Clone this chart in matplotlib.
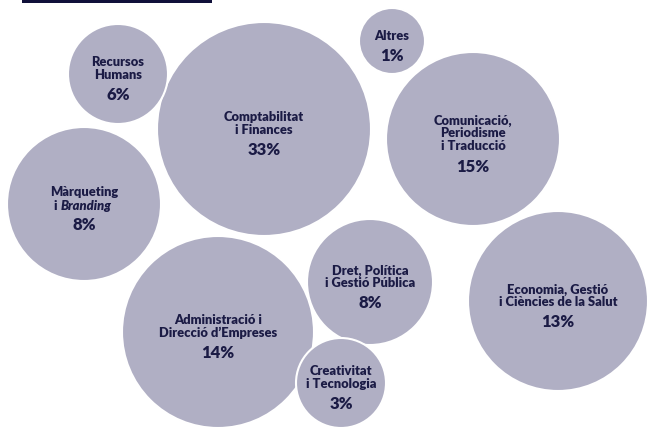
import matplotlib.pyplot as plt
from matplotlib.patches import Circle, Rectangle

plt.rcParams['font.family'] = ['Lato', 'DejaVu Sans']

areas = ["Comptabilitat\ni Finances", "Recursos\nHumans", "Altres",
         "Comunicació,\nPeriodisme\ni Traducció", "Màrqueting\ni Branding",
         "Dret, Política\ni Gestió Pública", "Economia, Gestió\ni Ciències de la Salut",
         "Administració i\nDirecció d’Empreses", "Creativitat\ni Tecnologia"]
percents = [33, 6, 1, 15, 8, 8, 13, 14, 3]

# bubble layout in pixels (x, y from top, radius)
cx = [264, 118, 392, 473, 84, 370, 558, 218, 341]
cy = [130, 75, 42, 140, 205, 283, 302, 333, 384]
rad = [107, 50, 33, 87, 77, 63, 90, 96, 45]

fill = '#b0afc4'
ink = '#1b1b45'
fs = 9.3
pitch = 13.5

fig = plt.figure(figsize=(6.47, 4.39), dpi=100)
ax = fig.add_axes([0, 0, 1, 1])
ax.set_xlim(0, 647)
ax.set_ylim(439, 0)
ax.set_aspect('equal')
ax.axis('off')

# cut-off title bar at the top
ax.add_patch(Rectangle((22, -2), 190, 6, color='#10103a', lw=0))

for name, p, x, y, r in zip(areas, percents, cx, cy, rad):
    ax.add_patch(Circle((x, y), r, facecolor=fill, edgecolor='white', lw=1.5))
    n = name.count("\n") + 1
    top = y - 0.5 * (pitch * n + 16) + 3
    if name.startswith("Màrqueting"):
        ax.text(x, top, "Màrqueting", ha='center', va='top', fontsize=fs,
                fontweight='heavy', color=ink)
        t = ax.text(x - 30, top + pitch, "i ", ha='left', va='top', fontsize=fs,
                    fontweight='heavy', color=ink)
        ax.annotate("Branding", xy=(1, 0), xycoords=t, ha='left', va='bottom',
                    fontsize=fs, fontweight='heavy', fontstyle='italic', color=ink)
    else:
        ax.text(x, top, name, ha='center', va='top', fontsize=fs,
                fontweight='heavy', color=ink, linespacing=1.05)
    ax.text(x, top + pitch * n + 4, f"{p}%", ha='center', va='top', fontsize=12,
            fontweight='heavy', color=ink)

fig.savefig("out.png", dpi=100, facecolor='white')
